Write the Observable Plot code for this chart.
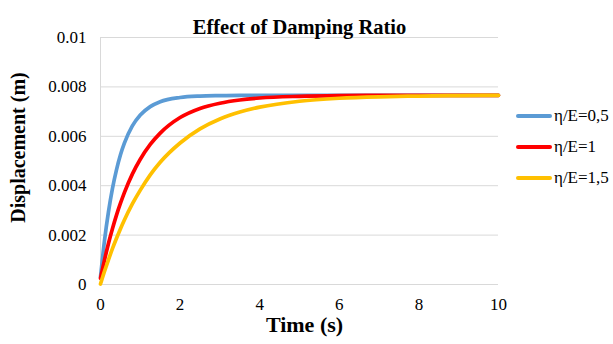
<!DOCTYPE html>
<html>
<head>
<meta charset="utf-8">
<script src="https://cdn.jsdelivr.net/npm/d3@7"></script>
<script src="https://cdn.jsdelivr.net/npm/@observablehq/plot@0.6"></script>
<style>
  html, body { margin: 0; padding: 0; background: #fff; }
  #wrap { position: relative; width: 613px; height: 344px; font-family: "Liberation Serif", "Times New Roman", serif; }
  #wrap svg { font-family: "Liberation Serif", "Times New Roman", serif !important; }
  #legend { position: absolute; left: 516px; top: 0; }
  .item { position: absolute; left: 0; display: flex; align-items: center; height: 20px; white-space: nowrap; font-size: 17px; color: #000; font-family: "Liberation Serif", "Times New Roman", serif; }
  .swatch { width: 36px; height: 4px; border-radius: 2px; margin-right: 2px; }
</style>
</head>
<body>
<div id="wrap"></div>
<script>
const title = "Effect of Damping Ratio";
const xTitle = "Time (s)";
const yTitle = "Displacement (m)";
const seriesNames = ["η/E=0,5", "η/E=1", "η/E=1,5"];
const seriesColors = ["#5B9BD5", "#FF0000", "#FFC000"];
const xTicks = [0, 2, 4, 6, 8, 10];
const yTicks = [0, 0.002, 0.004, 0.006, 0.008, 0.01];
const yTickLabels = ["0", "0.002", "0.004", "0.006", "0.008", "0.01"];

const time = [0, 0.1, 0.2, 0.3, 0.4, 0.5, 0.6, 0.8, 1, 1.25, 1.5, 2, 2.5, 3, 3.5, 4, 5, 6, 7, 8, 9, 10];
// displacement in mm
const disp05 = [0.30, 1.77, 2.94, 3.88, 4.63, 5.24, 5.72, 6.42, 6.86, 7.20, 7.40, 7.57, 7.63, 7.65, 7.66, 7.66, 7.66, 7.66, 7.66, 7.66, 7.66, 7.66];
const disp10 = [0.25, 0.99, 1.66, 2.26, 2.80, 3.28, 3.72, 4.47, 5.07, 5.67, 6.13, 6.76, 7.13, 7.34, 7.47, 7.55, 7.62, 7.65, 7.66, 7.66, 7.66, 7.66];
const disp15 = [0.02, 0.53, 1.00, 1.45, 1.86, 2.25, 2.61, 3.26, 3.82, 4.44, 4.95, 5.73, 6.30, 6.70, 6.98, 7.18, 7.42, 7.54, 7.60, 7.63, 7.65, 7.66];

const allSeries = [disp05, disp10, disp15];
const data = [];
allSeries.forEach((vals, si) => {
  vals.forEach((v, i) => data.push({t: time[i], y: v / 1000, s: seriesNames[si]}));
});

const font = '"Liberation Serif", "Times New Roman", serif';

const chart = Plot.plot({
  width: 613,
  height: 344,
  marginLeft: 100,
  marginRight: 115,
  marginTop: 37,
  marginBottom: 60,
  style: {fontFamily: font, fontSize: "17px", color: "#000", background: "#fff"},
  x: {domain: [0, 10]},
  y: {domain: [0, 0.01]},
  color: {domain: seriesNames, range: seriesColors},
  marks: [
    Plot.gridY(yTicks, {stroke: "#d9d9d9", strokeOpacity: 1, strokeWidth: 1}),
    Plot.ruleX([0], {stroke: "#d9d9d9", strokeWidth: 1}),
    Plot.axisY(yTicks, {tickSize: 0, tickPadding: 14, tickFormat: d => yTickLabels[yTicks.indexOf(d)], label: null, fontSize: 17, fontFamily: font, fill: "#000"}),
    Plot.axisX(xTicks, {tickSize: 0, tickPadding: 13, label: null, fontSize: 17, fontFamily: font, fill: "#000"}),
    Plot.line(data, {x: "t", y: "y", z: "s", stroke: "s", strokeWidth: 3.7, curve: "monotone-x"}),
    Plot.text([title], {frameAnchor: "top", dy: -18.5, fontWeight: "bold", fontSize: 20.5, fontFamily: font, fill: "#000", text: d => d}),
    Plot.text([xTitle], {frameAnchor: "bottom", dy: 47.5, dx: 5, fontWeight: "bold", fontSize: 22, fontFamily: font, fill: "#000", text: d => d}),
    Plot.text([yTitle], {frameAnchor: "left", textAnchor: "middle", dx: -82, dy: -13.5, rotate: -90, fontWeight: "bold", fontSize: 20, fontFamily: font, fill: "#000", text: d => d})
  ]
});

const wrap = document.getElementById("wrap");
wrap.appendChild(chart);

const legend = document.createElement("div");
legend.id = "legend";
const legendTops = [106, 137, 168];
seriesNames.forEach((name, i) => {
  const item = document.createElement("div");
  item.className = "item";
  item.style.top = legendTops[i] + "px";
  const sw = document.createElement("div");
  sw.className = "swatch";
  sw.style.background = seriesColors[i];
  const lab = document.createElement("span");
  lab.textContent = name;
  item.appendChild(sw);
  item.appendChild(lab);
  legend.appendChild(item);
});
wrap.appendChild(legend);
</script>
</body>
</html>
